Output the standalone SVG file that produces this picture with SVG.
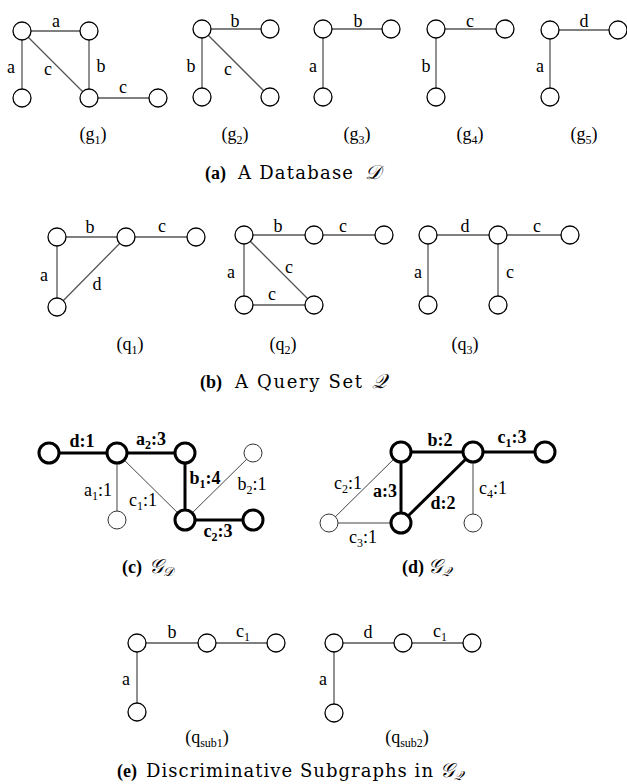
<svg xmlns="http://www.w3.org/2000/svg" width="627" height="784" viewBox="0 0 627 784" font-family="'Liberation Serif', 'Times New Roman', serif">
<style>
.e{stroke:#555;stroke-width:1.3;fill:none}
.et{stroke:#444;stroke-width:1}
.eb{stroke:#000;stroke-width:3}
.n{fill:#fff;stroke:#000;stroke-width:1.3}
.nt{fill:#fff;stroke:#333;stroke-width:1}
.nb{fill:#fff;stroke:#000;stroke-width:3}
.l{font-size:18px;text-anchor:middle}
.lb{font-size:18px;text-anchor:middle;font-weight:bold}
.cap{font-size:18px;font-family:'DejaVu Serif',serif}
.capb{font-size:18px;font-weight:bold}
.cal{font-size:20px;font-style:italic}
.sub{font-size:12px}
</style>
<rect width="627" height="784" fill="#fff"/>

<g id="connectors">
<line class="e" x1="22" y1="31" x2="89" y2="31"/>
<line class="e" x1="22" y1="31" x2="22" y2="98"/>
<line class="e" x1="22" y1="31" x2="89" y2="98"/>
<line class="e" x1="89" y1="31" x2="89" y2="98"/>
<line class="e" x1="89" y1="98" x2="158" y2="98"/>
<line class="e" x1="202" y1="29" x2="270" y2="29"/>
<line class="e" x1="202" y1="29" x2="202" y2="97"/>
<line class="e" x1="202" y1="29" x2="270" y2="97"/>
<line class="e" x1="323" y1="29" x2="391" y2="29"/>
<line class="e" x1="323" y1="29" x2="323" y2="97"/>
<line class="e" x1="436" y1="29" x2="505" y2="29"/>
<line class="e" x1="436" y1="29" x2="436" y2="97"/>
<line class="e" x1="550" y1="30" x2="618" y2="30"/>
<line class="e" x1="550" y1="30" x2="550" y2="97"/>
<line class="e" x1="57" y1="237" x2="126" y2="237"/>
<line class="e" x1="126" y1="237" x2="196" y2="237"/>
<line class="e" x1="57" y1="237" x2="57" y2="307"/>
<line class="e" x1="126" y1="237" x2="57" y2="307"/>
<line class="e" x1="244" y1="235" x2="314" y2="235"/>
<line class="e" x1="314" y1="235" x2="384" y2="235"/>
<line class="e" x1="244" y1="235" x2="244" y2="305"/>
<line class="e" x1="244" y1="235" x2="314" y2="305"/>
<line class="e" x1="244" y1="305" x2="314" y2="305"/>
<line class="e" x1="428" y1="235" x2="498" y2="235"/>
<line class="e" x1="498" y1="235" x2="570" y2="235"/>
<line class="e" x1="428" y1="235" x2="428" y2="305"/>
<line class="e" x1="498" y1="235" x2="498" y2="305"/>
<line class="eb" x1="49" y1="453" x2="117" y2="453"/>
<line class="eb" x1="117" y1="453" x2="185" y2="453"/>
<line class="et" x1="117" y1="453" x2="117" y2="520"/>
<line class="et" x1="117" y1="453" x2="185" y2="520"/>
<line class="eb" x1="185" y1="453" x2="185" y2="520"/>
<line class="et" x1="185" y1="520" x2="253" y2="453"/>
<line class="eb" x1="185" y1="520" x2="253" y2="520"/>
<line class="eb" x1="401" y1="452" x2="473" y2="452"/>
<line class="eb" x1="473" y1="452" x2="545" y2="452"/>
<line class="eb" x1="401" y1="452" x2="401" y2="523"/>
<line class="eb" x1="473" y1="452" x2="401" y2="523"/>
<line class="et" x1="401" y1="452" x2="329" y2="523"/>
<line class="et" x1="329" y1="523" x2="401" y2="523"/>
<line class="et" x1="473" y1="452" x2="473" y2="523"/>
<line class="e" x1="137" y1="643" x2="207" y2="643"/>
<line class="e" x1="207" y1="643" x2="276" y2="643"/>
<line class="e" x1="137" y1="643" x2="137" y2="712"/>
<line class="e" x1="334" y1="643" x2="403" y2="643"/>
<line class="e" x1="403" y1="643" x2="472" y2="643"/>
<line class="e" x1="334" y1="643" x2="334" y2="713"/>
</g>

<g id="edge-labels">
<text class="l" x="56" y="27">a</text>
<text class="l" x="11" y="73">a</text>
<text class="l" x="48" y="75">c</text>
<text class="l" x="101" y="72">b</text>
<text class="l" x="123" y="93">c</text>
<text class="l" x="235" y="27">b</text>
<text class="l" x="191" y="72">b</text>
<text class="l" x="228" y="75">c</text>
<text class="l" x="358" y="27">b</text>
<text class="l" x="313" y="72">a</text>
<text class="l" x="470" y="27">c</text>
<text class="l" x="426" y="72">b</text>
<text class="l" x="584" y="27">d</text>
<text class="l" x="540" y="72">a</text>

<text class="l" x="90" y="233">b</text>
<text class="l" x="162" y="232">c</text>
<text class="l" x="44" y="281">a</text>
<text class="l" x="97" y="290">d</text>
<text class="l" x="278" y="232">b</text>
<text class="l" x="343" y="232">c</text>
<text class="l" x="231" y="278">a</text>
<text class="l" x="289" y="273">c</text>
<text class="l" x="272" y="300">c</text>
<text class="l" x="465" y="232">d</text>
<text class="l" x="537" y="232">c</text>
<text class="l" x="418" y="278">a</text>
<text class="l" x="510" y="278">c</text>

<text class="lb" x="82" y="447">d:1</text>
<text class="lb" x="151" y="445">a<tspan class="sub" dy="4">2</tspan><tspan dy="-4">:3</tspan></text>
<text class="l" x="98" y="496">a<tspan class="sub" dy="4">1</tspan><tspan dy="-4">:1</tspan></text>
<text class="l" x="143" y="506">c<tspan class="sub" dy="4">1</tspan><tspan dy="-4">:1</tspan></text>
<text class="lb" x="205" y="484">b<tspan class="sub" dy="4">1</tspan><tspan dy="-4">:4</tspan></text>
<text class="l" x="252" y="490">b<tspan class="sub" dy="4">2</tspan><tspan dy="-4">:1</tspan></text>
<text class="lb" x="218" y="537">c<tspan class="sub" dy="4">2</tspan><tspan dy="-4">:3</tspan></text>

<text class="lb" x="440" y="446">b:2</text>
<text class="lb" x="512" y="443">c<tspan class="sub" dy="4">1</tspan><tspan dy="-4">:3</tspan></text>
<text class="l" x="348" y="489">c<tspan class="sub" dy="4">2</tspan><tspan dy="-4">:1</tspan></text>
<text class="lb" x="385" y="497">a:3</text>
<text class="lb" x="443" y="509">d:2</text>
<text class="l" x="493" y="494">c<tspan class="sub" dy="4">4</tspan><tspan dy="-4">:1</tspan></text>
<text class="l" x="363" y="543">c<tspan class="sub" dy="4">3</tspan><tspan dy="-4">:1</tspan></text>

<text class="l" x="172" y="638">b</text>
<text class="l" x="243" y="637">c<tspan class="sub" dy="4">1</tspan></text>
<text class="l" x="126" y="685">a</text>
<text class="l" x="368" y="638">d</text>
<text class="l" x="440" y="637">c<tspan class="sub" dy="4">1</tspan></text>
<text class="l" x="323" y="685">a</text>
</g>

<g id="g1">
<circle class="n" cx="22" cy="31" r="9"/><circle class="n" cx="89" cy="31" r="9"/>
<circle class="n" cx="22" cy="98" r="9"/><circle class="n" cx="89" cy="98" r="9"/><circle class="n" cx="158" cy="98" r="9"/>
<text class="l" x="93" y="140">(g<tspan class="sub" dy="4">1</tspan><tspan dy="-4">)</tspan></text>
</g>
<g id="g2">
<circle class="n" cx="202" cy="29" r="9"/><circle class="n" cx="270" cy="29" r="9"/>
<circle class="n" cx="202" cy="97" r="9"/><circle class="n" cx="270" cy="97" r="9"/>
<text class="l" x="235" y="140">(g<tspan class="sub" dy="4">2</tspan><tspan dy="-4">)</tspan></text>
</g>
<g id="g3">
<circle class="n" cx="323" cy="29" r="9"/><circle class="n" cx="391" cy="29" r="9"/><circle class="n" cx="323" cy="97" r="9"/>
<text class="l" x="357" y="140">(g<tspan class="sub" dy="4">3</tspan><tspan dy="-4">)</tspan></text>
</g>
<g id="g4">
<circle class="n" cx="436" cy="29" r="9"/><circle class="n" cx="505" cy="29" r="9"/><circle class="n" cx="436" cy="97" r="9"/>
<text class="l" x="470" y="140">(g<tspan class="sub" dy="4">4</tspan><tspan dy="-4">)</tspan></text>
</g>
<g id="g5">
<circle class="n" cx="550" cy="30" r="9"/><circle class="n" cx="618" cy="30" r="9"/><circle class="n" cx="550" cy="97" r="9"/>
<text class="l" x="584" y="140">(g<tspan class="sub" dy="4">5</tspan><tspan dy="-4">)</tspan></text>
</g>
<g id="caption-a">
<text class="capb" x="205" y="179">(a)</text>
<text class="cap" x="238" y="179" textLength="115" lengthAdjust="spacing">A Database</text>
<text class="cal" x="365" y="179">𝒟</text>
</g>

<g id="q1">
<circle class="n" cx="57" cy="237" r="9"/><circle class="n" cx="126" cy="237" r="9"/><circle class="n" cx="196" cy="237" r="9"/><circle class="n" cx="57" cy="307" r="9"/>
<text class="l" x="130" y="350">(q<tspan class="sub" dy="4">1</tspan><tspan dy="-4">)</tspan></text>
</g>
<g id="q2">
<circle class="n" cx="244" cy="235" r="9"/><circle class="n" cx="314" cy="235" r="9"/><circle class="n" cx="384" cy="235" r="9"/>
<circle class="n" cx="244" cy="305" r="9"/><circle class="n" cx="314" cy="305" r="9"/>
<text class="l" x="283" y="350">(q<tspan class="sub" dy="4">2</tspan><tspan dy="-4">)</tspan></text>
</g>
<g id="q3">
<circle class="n" cx="428" cy="235" r="9"/><circle class="n" cx="498" cy="235" r="9"/><circle class="n" cx="570" cy="235" r="9"/>
<circle class="n" cx="428" cy="305" r="9"/><circle class="n" cx="498" cy="305" r="9"/>
<text class="l" x="465" y="350">(q<tspan class="sub" dy="4">3</tspan><tspan dy="-4">)</tspan></text>
</g>
<g id="caption-b">
<text class="capb" x="200" y="388">(b)</text>
<text class="cap" x="235" y="388" textLength="127" lengthAdjust="spacing">A Query Set</text>
<text class="cal" x="372" y="388">𝒬</text>
</g>

<g id="GD">
<circle class="nb" cx="49" cy="453" r="10"/><circle class="nb" cx="117" cy="453" r="10"/><circle class="nb" cx="185" cy="453" r="10"/>
<circle class="nt" cx="253" cy="453" r="9"/><circle class="nt" cx="117" cy="520" r="9"/>
<circle class="nb" cx="185" cy="520" r="10"/><circle class="nb" cx="253" cy="520" r="10"/>
</g>
<g id="caption-c">
<text class="capb" x="122" y="573">(c)</text>
<text class="cal" x="149" y="573">𝒢<tspan font-size="13" dy="3">𝒟</tspan></text>
</g>

<g id="GQ">
<circle class="nb" cx="401" cy="452" r="10"/><circle class="nb" cx="473" cy="452" r="10"/><circle class="nb" cx="545" cy="452" r="10"/>
<circle class="nt" cx="329" cy="523" r="9"/><circle class="nb" cx="401" cy="523" r="10"/><circle class="nt" cx="473" cy="523" r="9"/>
</g>
<g id="caption-d">
<text class="capb" x="402" y="573">(d)</text>
<text class="cal" x="428" y="573">𝒢<tspan font-size="13" dy="3">𝒬</tspan></text>
</g>

<g id="qsub1">
<circle class="n" cx="137" cy="643" r="9"/><circle class="n" cx="207" cy="643" r="9"/><circle class="n" cx="276" cy="643" r="9"/><circle class="n" cx="137" cy="712" r="9"/>
<text class="l" x="207" y="743">(q<tspan class="sub" dy="4">sub1</tspan><tspan dy="-4">)</tspan></text>
</g>
<g id="qsub2">
<circle class="n" cx="334" cy="643" r="9"/><circle class="n" cx="403" cy="643" r="9"/><circle class="n" cx="472" cy="643" r="9"/><circle class="n" cx="334" cy="713" r="9"/>
<text class="l" x="407" y="743">(q<tspan class="sub" dy="4">sub2</tspan><tspan dy="-4">)</tspan></text>
</g>
<g id="caption-e">
<text class="capb" x="117" y="777">(e)</text>
<text class="cap" x="146" y="777" textLength="287" lengthAdjust="spacing">Discriminative Subgraphs in</text>
<text class="cal" x="440" y="777">𝒢<tspan font-size="13" dy="3">𝒬</tspan></text>
</g>
</svg>
